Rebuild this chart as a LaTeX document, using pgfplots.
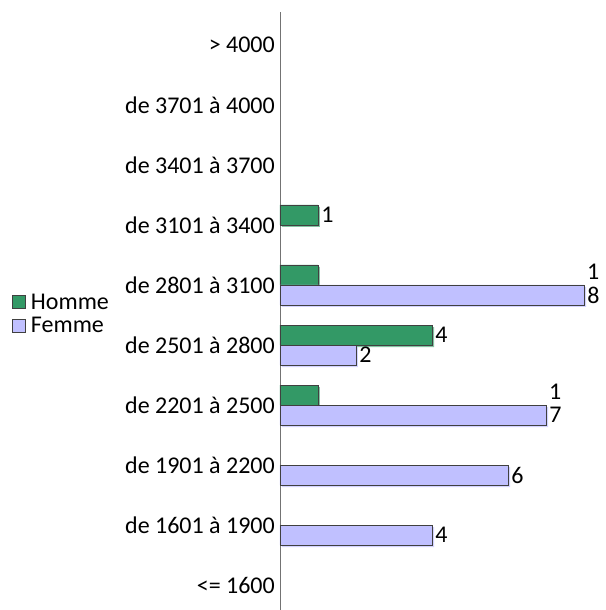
\documentclass[border=0pt]{standalone}
\usepackage{pgfplots}
\pgfplotsset{compat=1.18}
\usepackage{fontspec}
\setmainfont{Carlito}
\definecolor{homme}{HTML}{339966}
\definecolor{femme}{HTML}{C0C0FF}
\newcommand{\lblfont}{\fontsize{24}{27}\selectfont}
\begin{document}
\begin{tikzpicture}
\begin{axis}[
  x=38pt, y=60pt,
  xmin=0, xmax=8.55, ymin=-0.417, ymax=9.55,
  axis x line=none,
  axis y line*=left,
  axis line style={draw=black!55, line width=0.8pt},
  ytick={0,...,9},
  yticklabels={{<= 1600},{de 1601 à 1900},{de 1901 à 2200},{de 2201 à 2500},{de 2501 à 2800},{de 2801 à 3100},{de 3101 à 3400},{de 3401 à 3700},{de 3701 à 4000},{> 4000}},
  major tick length=0pt,
  yticklabel style={font=\lblfont, inner sep=1pt, xshift=-4pt},
  xbar, bar width=20pt,
  nodes near coords,
  point meta=explicit symbolic,
  nodes near coords style={font=\lblfont, inner sep=3pt, anchor=west},
  legend image code/.code={\draw[#1] (0pt,-6.5pt) rectangle (13pt,6.5pt);},
  legend style={at={(axis description cs:0,0.5)}, anchor=west, xshift=-268pt, yshift=-3pt,
    draw=none, fill=none, font=\lblfont, row sep=3pt, inner sep=0pt,
    cells={anchor=west}, nodes={inner xsep=5pt}},
  clip=false,
]
% shadows
\addplot[fill=homme!60, draw=none, bar shift=10pt, xshift=2pt, yshift=-2pt, forget plot, nodes near coords={}]
  coordinates {(1,6)[] (1,5)[] (4,4)[] (1,3)[]};
\addplot[fill=femme!70, draw=none, bar shift=-10pt, xshift=2pt, yshift=-2pt, forget plot, nodes near coords={}]
  coordinates {(4,1)[] (6,2)[] (7,3)[] (2,4)[] (8,5)[]};
% bars
\addplot[fill=homme, draw=black!75, line width=0.8pt, bar shift=10pt]
  coordinates {(1,6)[1] (1,5)[] (4,4)[4] (1,3)[]};
\addplot[fill=femme, draw=black!75, line width=0.8pt, bar shift=-10pt]
  coordinates {(4,1)[4] (6,2)[6] (7,3)[7] (2,4)[2] (8,5)[8]};
\addplot[draw=none, fill=none, bar shift=10pt, forget plot,
  nodes near coords style={yshift=3pt}]
  coordinates {(8,5)[1] (7,3)[1]};
\legend{Homme,Femme}
\coordinate (TL) at (axis cs:0,9.55);
\end{axis}
\pgfresetboundingbox
\path ([shift={(-280pt,12pt)}]TL) rectangle ([shift={(325pt,-598pt)}]TL);
\end{tikzpicture}
\end{document}
